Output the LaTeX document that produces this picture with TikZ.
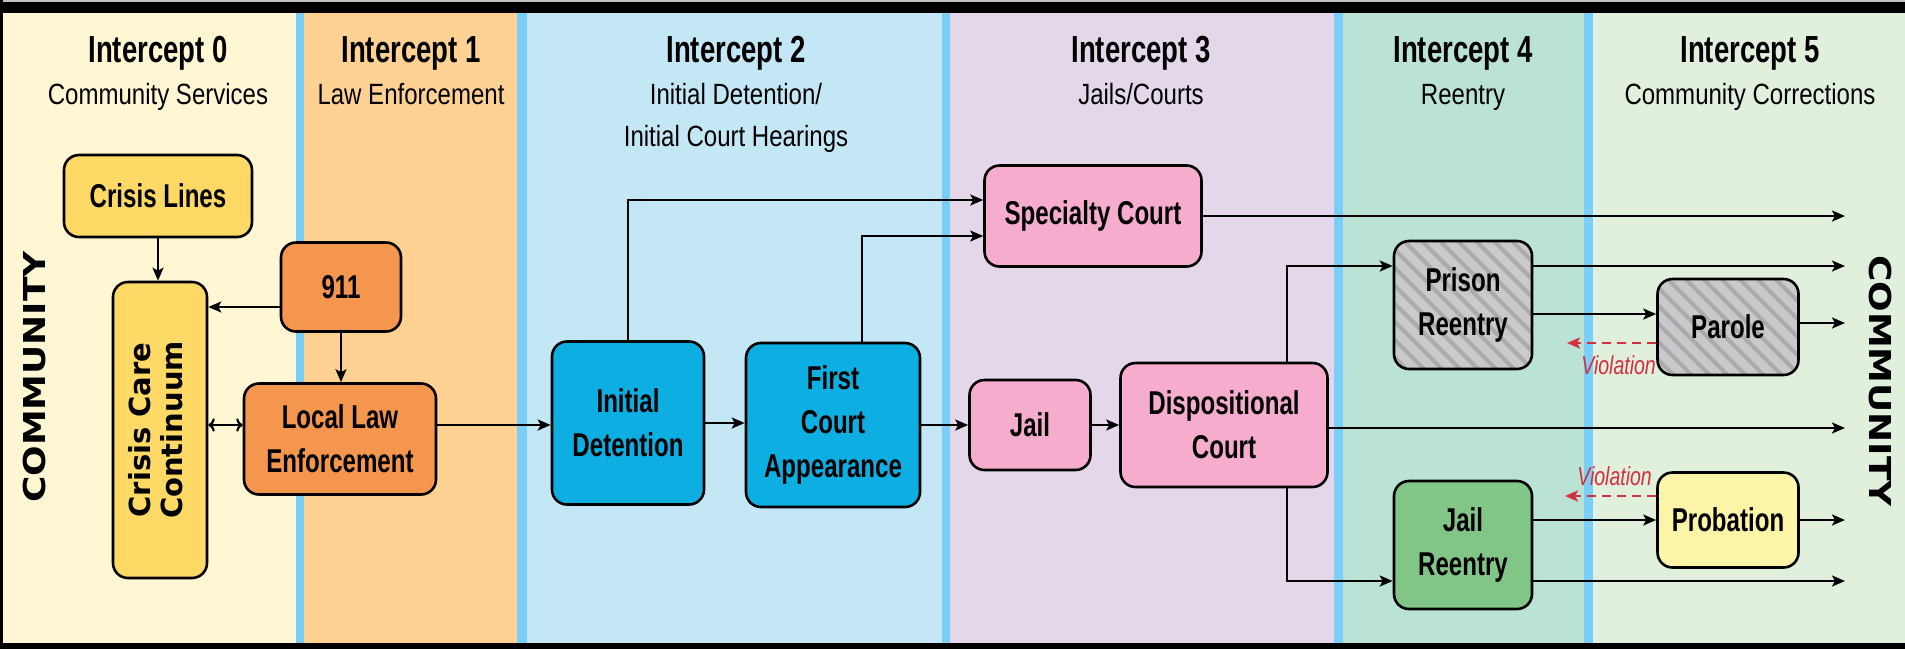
\documentclass[tikz,border=0pt]{standalone}
\usepackage{fontspec}
\usetikzlibrary{arrows.meta}
\newfontfamily\headfont{Liberation Sans}[FakeStretch=0.73]
\newfontfamily\subfont{Liberation Sans}[FakeStretch=0.82]
\newfontfamily\boxfont{Liberation Sans}[FakeStretch=0.73]
\newfontfamily\violfont{Liberation Sans}[FakeStretch=0.75]
\newfontfamily\widefont{DejaVu Sans}[FakeStretch=1.19]
\newfontfamily\ccfont{DejaVu Sans}

\definecolor{bandzero}{HTML}{FFF6D3}
\definecolor{bandone}{HTML}{FFD293}
\definecolor{bandtwo}{HTML}{C4E7F6}
\definecolor{bandthree}{HTML}{E4D7EA}
\definecolor{bandfour}{HTML}{BAE2D5}
\definecolor{bandfive}{HTML}{E1F0DC}
\definecolor{sepblue}{HTML}{79CFF7}
\definecolor{crisisyellow}{HTML}{FFD966}
\definecolor{laworange}{HTML}{F5964F}
\definecolor{detcyan}{HTML}{0DAFE2}
\definecolor{courtpink}{HTML}{F6ADCD}
\definecolor{reentrygrey}{HTML}{C9C9CB}
\definecolor{stripegrey}{HTML}{ABABAD}
\definecolor{reentrygreen}{HTML}{81C686}
\definecolor{probyellow}{HTML}{FCF5A8}
\definecolor{violred}{HTML}{D32F3E}

\tikzset{
  box/.style = {draw, line width=2.6pt, rounded corners=15pt, align=center, inner sep=2pt,
                font=\boxfont\bfseries\fontsize{33}{44}\selectfont},
  head/.style = {font=\headfont\bfseries\fontsize{37.7}{42}\selectfont, inner sep=0pt},
  sub/.style = {font=\subfont\fontsize{29.3}{42}\selectfont, inner sep=0pt},
  comm/.style = {font=\widefont\bfseries\fontsize{30.2}{34}\selectfont, inner sep=0pt},
  arr/.style = {line width=2.2pt, -{Stealth[length=13pt,width=11pt,inset=3pt]}},
  viol/.style = {arr, violred, dash pattern=on 9pt off 6pt},
  violtext/.style = {font=\violfont\itshape\fontsize{26}{30}\selectfont, text=violred, inner sep=0pt},
  hatched/.style = {fill=reentrygrey, path picture={
      \foreach \k in {-170,-152,...,160}
        \draw[line width=4pt, stripegrey] ([xshift=\k pt]path picture bounding box.north west) -- ++(200,200);
    }}
}

\begin{document}
\begin{tikzpicture}[x=1pt, y=-1pt]
	\useasboundingbox (0,0) rectangle (1905,649);

	% intercept bands
	\fill[bandzero] (0,0) rectangle (300,649);
	\fill[bandone] (300,0) rectangle (522,649);
	\fill[bandtwo] (522,0) rectangle (946,649);
	\fill[bandthree] (946,0) rectangle (1338,649);
	\fill[bandfour] (1338,0) rectangle (1588,649);
	\fill[bandfive] (1588,0) rectangle (1905,649);
	\fill[sepblue] (296,0) rectangle (304,649);
	\fill[sepblue] (517,0) rectangle (527,649);
	\fill[sepblue] (942,0) rectangle (950,649);
	\fill[sepblue] (1334,0) rectangle (1343,649);
	\fill[sepblue] (1584,0) rectangle (1593,649);

	% frame
	\fill[black!25] (0,0) rectangle (1905,2);
	\fill[black] (0,2) rectangle (1905,13);
	\fill[black] (0,0) rectangle (3,649);
	\fill[black] (0,643) rectangle (1905,649);

	% headings
	\node[head, anchor=base] (h0) at (158,62) {Intercept 0};
	\node[sub, anchor=base] (s0) at (158,104) {Community Services};
	\node[head, anchor=base] (h1) at (411,62) {Intercept 1};
	\node[sub, anchor=base] (s1) at (411,104) {Law Enforcement};
	\node[head, anchor=base] (h2) at (736,62) {Intercept 2};
	\node[sub, anchor=base] (s2a) at (736,104) {Initial Detention/};
	\node[sub, anchor=base] (s2b) at (736,146) {Initial Court Hearings};
	\node[head, anchor=base] (h3) at (1141,62) {Intercept 3};
	\node[sub, anchor=base] (s3) at (1141,104) {Jails/Courts};
	\node[head, anchor=base] (h4) at (1463,62) {Intercept 4};
	\node[sub, anchor=base] (s4) at (1463,104) {Reentry};
	\node[head, anchor=base] (h5) at (1750,62) {Intercept 5};
	\node[sub, anchor=base] (s5) at (1750,104) {Community Corrections};

	\node[comm, rotate=90] (commL) at (35,377) {COMMUNITY};
	\node[comm, rotate=-90] (commR) at (1880,381) {COMMUNITY};

	% boxes
	\node[box, fill=crisisyellow, minimum width=188, minimum height=82] (crisis) at (158,196) {Crisis Lines};
	\node[box, fill=crisisyellow, minimum width=94, minimum height=296] (ccc) at (160,430)
		{\rotatebox{90}{\ccfont\bfseries\fontsize{29}{32}\selectfont\begin{tabular}{@{}c@{}}Crisis Care\\Continuum\end{tabular}}};
	\node[box, fill=laworange, minimum width=120, minimum height=89] (n911) at (341,287) {911};
	\node[box, fill=laworange, minimum width=192, minimum height=111] (lle) at (340,439) {Local Law\\Enforcement};
	\node[box, fill=detcyan, minimum width=152, minimum height=163] (idet) at (628,423) {Initial\\Detention};
	\node[box, fill=detcyan, minimum width=174, minimum height=164] (fca) at (833,425) {First\\Court\\Appearance};
	\node[box, fill=courtpink, minimum width=217, minimum height=101] (spec) at (1093,216) {Specialty Court};
	\node[box, fill=courtpink, minimum width=121, minimum height=90] (jail) at (1030,425) {Jail};
	\node[box, fill=courtpink, minimum width=207, minimum height=124] (disp) at (1224,425) {Dispositional\\Court};
	\node[box, hatched, minimum width=138, minimum height=128] (prison) at (1463,305) {Prison\\Reentry};
	\node[box, hatched, minimum width=141, minimum height=96] (parole) at (1728,327) {Parole};
	\node[box, fill=reentrygreen, minimum width=138, minimum height=128] (jailre) at (1463,545) {Jail\\Reentry};
	\node[box, fill=probyellow, minimum width=141, minimum height=95] (probation) at (1728,520) {Probation};

	\coordinate (out) at (1845,0);
	\coordinate (vtip1) at (1567,343);
	\coordinate (vtip2) at (1565,496);

	% intercepts 0 and 1
	\draw[arr] (crisis.south) -- (crisis.south |- ccc.north);
	\draw[arr] ([yshift=-20]n911.west) -- ([yshift=-20]n911.west -| ccc.east);
	\draw[arr] (n911.south) -- (n911.south |- lle.north);
	\draw[arr, <->] ([yshift=14]lle.west) -- ([yshift=14]lle.west -| ccc.east);
	\draw[arr] ([yshift=14]lle.east) -- ([yshift=14]lle.east -| idet.west);

	% intercepts 2 and 3
	\draw[arr] (idet.east) -- (idet.east -| fca.west);
	\draw[arr] (fca.east) -- (fca.east -| jail.west);
	\draw[arr] (idet.north) |- ([yshift=16]spec.west);
	\draw[arr] ([xshift=29]fca.north) |- ([yshift=-20]spec.west);
	\draw[arr] (jail.east) -- (disp.west);
	\draw[arr] (spec.east) -- (spec.east -| out);
	\draw[arr] ([yshift=-3]disp.east) -- ([yshift=-3]disp.east -| out);
	\draw[arr] ([xshift=63]disp.north) |- ([yshift=39]prison.west);
	\draw[arr] ([xshift=63]disp.south) |- ([yshift=-36]jailre.west);

	% intercepts 4 and 5
	\draw[arr] ([yshift=39]prison.east) -- ([yshift=39]prison.east -| out);
	\draw[arr] ([yshift=-9]prison.east) -- ([yshift=-9]prison.east -| parole.west);
	\draw[arr] ([yshift=4]parole.east) -- ([yshift=4]parole.east -| out);
	\draw[arr] ([yshift=25]jailre.east) -- ([yshift=25]jailre.east -| probation.west);
	\draw[arr] ([yshift=-36]jailre.east) -- ([yshift=-36]jailre.east -| out);
	\draw[arr] (probation.east) -- (probation.east -| out);

	% violations
	\draw[viol] (parole.west |- vtip1) -- (vtip1);
	\node[violtext, anchor=north east] (viollab1) at (1656,355) {Violation};
	\draw[viol] (probation.west |- vtip2) -- (vtip2);
	\node[violtext, anchor=base east] (viollab2) at (1652,485) {Violation};
\end{tikzpicture}
\end{document}
